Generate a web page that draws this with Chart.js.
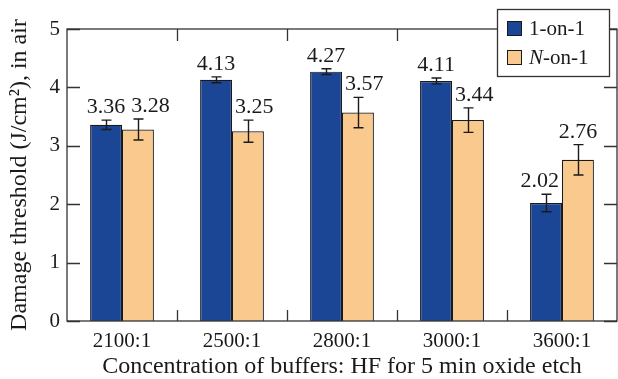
<!DOCTYPE html>
<html>
<head>
<meta charset="utf-8">
<script src="https://cdn.jsdelivr.net/npm/chart.js@4.4.1/dist/chart.umd.min.js"></script>
<style>
  html, body { margin: 0; padding: 0; background: #fff; }
</style>
</head>
<body>
<canvas id="thresholdChart" width="618" height="379"></canvas>
<script>
const ratios = ['2100:1', '2500:1', '2800:1', '3000:1', '3600:1']
const singleShot = [3.36, 4.13, 4.27, 4.11, 2.02]
const singleShotErr = [0.08, 0.05, 0.05, 0.05, 0.15]
const multiShot = [3.28, 3.25, 3.57, 3.44, 2.76]
const multiShotErr = [0.18, 0.19, 0.26, 0.21, 0.26]
const yTicks = [0, 1, 2, 3, 4, 5]

const serif = "'Liberation Serif', 'Times New Roman', serif"
const ink = '#1a1a1a'

// box round the plot with short inward ticks on all four sides
const framePlugin = {
    id: 'frame',
    afterDraw(chart) {
        const { ctx, chartArea: a, scales } = chart
        ctx.save()
        ctx.strokeStyle = '#333'
        ctx.lineWidth = 1.3
        ctx.strokeRect(a.left, a.top, a.right - a.left, a.bottom - a.top)
        ctx.beginPath()
        yTicks.forEach(v => {
            const y = Math.round(scales.y.getPixelForValue(v)) + 0.5
            ctx.moveTo(a.left, y); ctx.lineTo(a.left + 13, y)
            ctx.moveTo(a.right, y); ctx.lineTo(a.right - 13, y)
        })
        const step = (a.right - a.left) / ratios.length
        for (let i = 1; i < ratios.length; i++) {
            const x = Math.round(a.left + i * step) + 0.5
            ctx.moveTo(x, a.top); ctx.lineTo(x, a.top + 12)
            ctx.moveTo(x, a.bottom); ctx.lineTo(x, a.bottom - 11)
        }
        ctx.stroke()
        ctx.restore()
    }
}

function overlaps(r1, r2) {
    return r1.l < r2.r && r2.l < r1.r && r1.t < r2.b && r2.t < r1.b
}

// error bars and the value written above each bar
const errorPlugin = {
    id: 'errors',
    afterDatasetsDraw(chart) {
        const { ctx, scales } = chart
        ctx.save()
        ctx.strokeStyle = ink
        ctx.lineWidth = 1.4
        const labels = []
        const bars = []
        chart.data.datasets.forEach((ds, di) => {
            const meta = chart.getDatasetMeta(di)
            meta.data.forEach((bar, i) => {
                const v = ds.data[i], e = ds.errors[i]
                const yHi = scales.y.getPixelForValue(v + e)
                const yLo = scales.y.getPixelForValue(v - e)
                const x = Math.round(bar.x) + 0.5
                ctx.beginPath()
                ctx.moveTo(x, yHi); ctx.lineTo(x, yLo)
                ctx.moveTo(x - 5, yHi); ctx.lineTo(x + 5, yHi)
                ctx.moveTo(x - 5, yLo); ctx.lineTo(x + 5, yLo)
                ctx.stroke()
                bars.push({ group: i, di, l: bar.x - bar.width / 2, r: bar.x + bar.width / 2, t: yHi, b: bar.base })
                labels.push({ group: i, di, x: bar.x, y: yHi - 7, text: v.toFixed(2) })
            })
        })
        ctx.font = '22px ' + serif
        ctx.fillStyle = ink
        ctx.textAlign = 'center'
        ctx.textBaseline = 'alphabetic'
        const capH = 15
        const box = l => {
            const w = ctx.measureText(l.text).width
            return { l: l.x - w / 2, r: l.x + w / 2, t: l.y - capH, b: l.y }
        }
        // move a label sideways, away from its neighbour bar and label
        ratios.forEach((_, i) => {
            const [first, second] = labels.filter(l => l.group === i)
            const [barA, barB] = bars.filter(b => b.group === i)
            let r = box(first)
            if (overlaps(r, barB)) first.x -= r.r - barB.l + 3
            r = box(second)
            if (overlaps(r, barA)) second.x += barA.r - r.l + 3
            r = box(second)
            const rf = box(first)
            if (overlaps(r, { l: rf.l, r: rf.r + 6, t: rf.t, b: rf.b })) second.x += rf.r + 6 - r.l
        })
        labels.forEach(l => ctx.fillText(l.text, l.x, l.y))
        ctx.restore()
    }
}

// boxed legend in the upper right corner
const legendPlugin = {
    id: 'boxLegend',
    afterDraw(chart) {
        const { ctx } = chart
        const left = 497, top = 9, w = 112, h = 67
        ctx.save()
        ctx.fillStyle = '#fff'
        ctx.fillRect(left, top, w, h)
        ctx.strokeStyle = '#333'
        ctx.lineWidth = 1.3
        ctx.strokeRect(left + 0.5, top + 0.5, w, h)
        ctx.textBaseline = 'middle'
        ctx.textAlign = 'left'
        chart.data.datasets.forEach((ds, i) => {
            const y = top + 19.5 + i * 29
            ctx.fillStyle = ds.backgroundColor
            ctx.fillRect(left + 10, y - 7.5, 15, 15)
            ctx.strokeStyle = ink
            ctx.lineWidth = 1
            ctx.strokeRect(left + 10.5, y - 7, 14, 14)
            ctx.fillStyle = ink
            let x = left + 32
            if (ds.italicLead) {
                ctx.font = 'italic 21px ' + serif
                ctx.fillText(ds.italicLead, x, y + 1)
                x += ctx.measureText(ds.italicLead).width
            }
            ctx.font = '21px ' + serif
            ctx.fillText(ds.label.slice(ds.italicLead ? ds.italicLead.length : 0), x, y + 1)
        })
        ctx.restore()
    }
}

const data = {
    labels: ratios,
    datasets: [
        {
            label: '1-on-1',
            data: singleShot,
            errors: singleShotErr,
            backgroundColor: '#1b4595',
            borderColor: ink,
            borderWidth: 1.2,
            categoryPercentage: 0.58,
            barPercentage: 1.0
        },
        {
            label: 'N-on-1',
            italicLead: 'N',
            data: multiShot,
            errors: multiShotErr,
            backgroundColor: '#f9c98d',
            borderColor: ink,
            borderWidth: 1.2,
            categoryPercentage: 0.58,
            barPercentage: 1.0
        }
    ]
}

const config = {
    type: 'bar',
    data: data,
    options: {
        responsive: false,
        animation: false,
        devicePixelRatio: 1,
        layout: { padding: { top: 29, right: 1, left: 0, bottom: 0 } },
        plugins: {
            legend: { display: false },
            tooltip: { enabled: false }
        },
        scales: {
            x: {
                grid: { display: false, drawTicks: false, tickLength: 0 },
                border: { display: false },
                ticks: { color: ink, font: { family: serif, size: 21 }, padding: 8, maxRotation: 0 },
                title: {
                    display: true,
                    text: 'Concentration of buffers: HF for 5 min oxide etch',
                    color: ink,
                    font: { family: serif, size: 24, lineHeight: 1.0 },
                    padding: { top: 0, bottom: 0 }
                },
                afterFit: s => { s.height = 58 }
            },
            y: {
                min: 0,
                max: 5,
                afterBuildTicks: s => { s.ticks = yTicks.map(v => ({ value: v })) },
                grid: { display: false, drawTicks: false, tickLength: 0 },
                border: { display: false },
                ticks: { color: ink, font: { family: serif, size: 21 }, padding: 7 },
                title: {
                    display: true,
                    text: 'Damage threshold (J/cm²), in air',
                    color: ink,
                    font: { family: serif, size: 24, lineHeight: 1.2 },
                    padding: { top: 5, bottom: 0 }
                },
                afterFit: s => { s.width = 67 }
            }
        }
    },
    plugins: [errorPlugin, framePlugin, legendPlugin]
}

new Chart(
    document.getElementById('thresholdChart').getContext('2d'),
    config
)
</script>
</body>
</html>
